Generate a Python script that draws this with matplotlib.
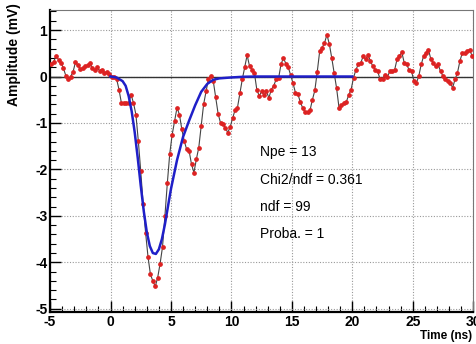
import numpy as np
import matplotlib
matplotlib.use("Agg")
import matplotlib.pyplot as plt
from matplotlib.ticker import MultipleLocator

# sampled waveform (mV), one sample every 0.2 ns starting at -4.9 ns
t_start = -4.9
dt = 0.2
amplitude = [
    0.26, 0.32, 0.45, 0.36, 0.30, 0.18, 0.02, -0.06, 0.00, 0.10,
    0.31, 0.24, 0.16, 0.18, 0.22, 0.24, 0.30, 0.18, 0.14, 0.20,
    0.12, 0.14, 0.08, 0.10, 0.05,
    # pulse
    0.00, -0.02, -0.05, -0.28, -0.57, -0.57, -0.57, -0.57, -0.39, -0.57,
    -0.82, -1.39, -2.04, -2.75, -3.36, -3.88, -4.26, -4.40, -4.52, -4.33,
    -4.03, -3.67, -3.00, -2.29, -1.66, -1.25, -0.96, -0.67, -0.82, -1.14,
    -1.39, -1.57, -1.60, -1.89, -2.07, -1.78, -1.53, -1.07, -0.60,
    # after pulse
    -0.32, -0.05, 0.02, -0.10, -0.45, -0.80, -1.00, -1.03, -1.10, -1.21,
    -1.08, -0.90, -0.72, -0.67, -0.36, -0.06, 0.20, 0.46, 0.22, 0.15,
    0.08, -0.28, -0.42, -0.32, -0.40, -0.32, -0.46, -0.28, -0.20, -0.06,
    -0.04, 0.26, 0.40,
    0.28, 0.20, 0.03, -0.15, -0.35, -0.38, -0.55, -0.68, -0.77, -0.77,
    -0.73, -0.50, -0.30, 0.10, 0.54, 0.62, 0.72, 0.90, 0.70, 0.40,
    0.08, -0.25, -0.67, -0.62, -0.57, -0.55, -0.40, -0.28, -0.03, 0.15,
    0.26, 0.29, 0.44, 0.37, 0.47, 0.33,
    0.22, 0.15, 0.11, -0.06, -0.05, 0.04, -0.01, 0.11, 0.11, 0.14,
    0.37, 0.45, 0.52, 0.29, 0.26, 0.14, 0.11, -0.10, -0.14, 0.01,
    0.26, 0.44, 0.51, 0.58, 0.37, 0.29, 0.22, 0.26, 0.11, 0.01,
    -0.06, -0.10, -0.14, -0.24, -0.06, 0.08, 0.33, 0.51, 0.51, 0.54,
    0.58, 0.45,
]

# fitted single-photoelectron template
fit_t = [0.0, 0.5, 1.0, 1.25, 1.5, 1.75, 2.0, 2.25, 2.5, 2.75, 3.0, 3.25,
         3.5, 3.75, 4.0, 4.25, 4.5, 4.75, 5.0, 5.5, 6.0, 6.5, 7.0, 7.5,
         8.0, 8.5, 9.0, 10.0, 11.0, 12.0, 20.0]
fit_v = [0.0, -0.02, -0.1, -0.2, -0.42, -0.75, -1.2, -1.75, -2.35, -2.9,
         -3.35, -3.65, -3.8, -3.82, -3.72, -3.5, -3.18, -2.8, -2.42, -1.8,
         -1.3, -0.95, -0.62, -0.33, -0.16, -0.07, -0.04, -0.02, -0.005, 0.0, 0.0]

fit_labels = ["Npe = 13", "Chi2/ndf = 0.361", "ndf = 99", "Proba. = 1"]

plt.rcParams['font.family'] = ['Liberation Sans', 'DejaVu Sans']
plt.rcParams['axes.unicode_minus'] = False

t = t_start + dt * np.arange(len(amplitude))

fig = plt.figure(figsize=(4.77, 3.44), dpi=100)
ax = fig.add_axes([0.105, 0.093, 0.887, 0.879])

ax.axhline(0, color='#333333', lw=1.0, zorder=2)
ax.plot(t, amplitude, color='#444444', lw=0.8, marker='o', ms=2.4,
        mfc='#dd2222', mec='#dd2222', zorder=3)
ax.plot(fit_t, fit_v, color='#1f1fc8', lw=1.8, zorder=4)

ax.set_xlim(-5, 30)
ax.set_ylim(-5.07, 1.44)
ax.xaxis.set_major_locator(MultipleLocator(5))
ax.xaxis.set_minor_locator(MultipleLocator(1))
ax.yaxis.set_major_locator(MultipleLocator(1))
ax.yaxis.set_minor_locator(MultipleLocator(0.2))
ax.grid(True, which='major', linestyle=(0, (1, 1.5)), color='#999999', lw=0.8)
ax.tick_params(which='major', direction='in', length=8, width=1.0,
               labelsize=10, pad=2)
ax.tick_params(which='minor', direction='in', length=4, width=0.8)
for lab in ax.get_xticklabels() + ax.get_yticklabels():
    lab.set_fontweight('bold')

ax.spines['left'].set_linewidth(1.6)
ax.spines['bottom'].set_linewidth(1.6)
ax.spines['top'].set_color('#777777')
ax.spines['right'].set_color('#777777')
ax.spines['top'].set_linewidth(0.8)
ax.spines['right'].set_linewidth(0.8)

fig.text(0.03, 0.99, "Amplitude (mV)", rotation=90, ha='center', va='top',
         fontsize=10, fontweight='bold')
fig.text(0.99, 0.005, "Time (ns)", ha='right', va='bottom',
         fontsize=8.5, fontweight='bold')

for i, s in enumerate(fit_labels):
    ax.text(12.4, -1.63 - 0.59 * i, s, fontsize=10, va='center', ha='left')

fig.savefig("out.png", dpi=100)
